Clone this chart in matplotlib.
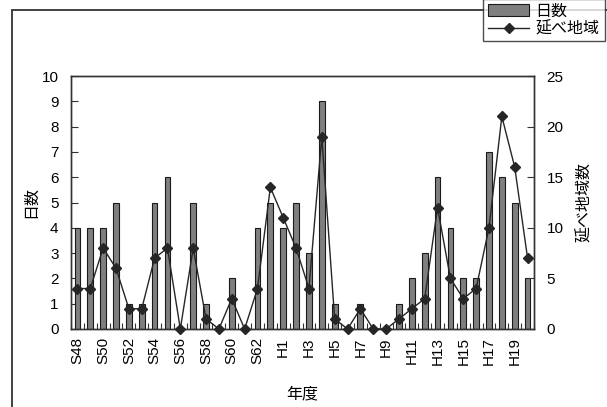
"""
日数・延べ地域数の年度別推移 (S48〜H20)
棒グラフ(左軸) + 折れ線(右軸)
"""

import matplotlib
matplotlib.use("Agg")
import matplotlib.pyplot as plt
from matplotlib.patches import Rectangle
from matplotlib.lines import Line2D

# ═══════════════════════════════════════════════════════════════
# 【データ】
# ═══════════════════════════════════════════════════════════════

years = (["S%d" % y for y in range(48, 64)] +
         ["H%d" % y for y in range(1, 21)])

days = [4, 4, 4, 5, 1, 1, 5, 6, 0, 5, 1, 0, 2, 0, 4, 5,
        4, 5, 3, 9, 1, 0, 1, 0, 0, 1, 2, 3, 6, 4, 2, 2, 7, 6, 5, 2]

regions = [4, 4, 8, 6, 2, 2, 7, 8, 0, 8, 1, 0, 3, 0, 4, 14,
           11, 8, 4, 19, 1, 0, 2, 0, 0, 1, 2, 3, 12, 5, 3, 4, 10, 21, 16, 7]

left_ticks = list(range(0, 11))
right_ticks = [0, 5, 10, 15, 20, 25]

# ═══════════════════════════════════════════════════════════════
# 【繪圖】
# ═══════════════════════════════════════════════════════════════

plt.rcParams['font.family'] = ['Liberation Sans', 'Noto Sans CJK JP', 'DejaVu Sans']
plt.rcParams['font.size'] = 11

BAR_COLOR = '#7f7f7f'
LINE_COLOR = '#262626'
EDGE = '#333333'


def main():
    fig = plt.figure(figsize=(6.07, 4.07), dpi=100)
    ax = fig.add_axes([71 / 607, 78 / 407, 463 / 607, 253 / 407])

    x = [i + 0.5 for i in range(len(years))]

    # 棒: 日数
    ax.bar(x, days, width=0.45, color=BAR_COLOR, edgecolor='#1a1a1a',
           linewidth=0.8, zorder=2)
    ax.set_xlim(0, len(years))
    ax.set_ylim(0, 10)
    ax.set_yticks(left_ticks)
    ax.set_ylabel('日数', fontsize=11.5)
    ax.yaxis.set_label_coords(-0.071, 0.5)

    # x 軸: 区切りに目盛、ラベルは1年おき
    ax.set_xticks(range(0, len(years) + 1))
    ax.set_xticklabels([])
    ax.tick_params(axis='x', which='major', direction='in', length=4,
                   color=EDGE)
    ax.set_xticks([x[i] for i in range(0, len(years), 2)], minor=True)
    ax.set_xticklabels([years[i] for i in range(0, len(years), 2)],
                       minor=True, rotation=90, fontsize=11)
    ax.tick_params(axis='x', which='minor', length=0, pad=6)
    ax.tick_params(axis='y', direction='in', length=5, color=EDGE, pad=9,
                   labelsize=11)
    ax.set_xlabel('年度', fontsize=11.5)
    ax.xaxis.set_label_coords(0.5, -0.225)

    for s in ax.spines.values():
        s.set_color(EDGE)
        s.set_linewidth(1.0)

    # 折れ線: 延べ地域数 (右軸)
    ax2 = ax.twinx()
    ax2.plot(x, regions, '-', color=LINE_COLOR, linewidth=1.0,
             marker='D', markersize=5, markerfacecolor=LINE_COLOR,
             markeredgecolor=LINE_COLOR, clip_on=False, zorder=3)
    ax2.set_ylim(0, 25)
    ax2.set_yticks(right_ticks)
    ax2.tick_params(axis='y', direction='in', length=5, color=EDGE, pad=9,
                    labelsize=11)
    ax2.set_ylabel('延べ地域数', fontsize=11.5)
    ax2.yaxis.set_label_coords(1.091, 0.5)
    for s in ax2.spines.values():
        s.set_color(EDGE)
        s.set_linewidth(1.0)

    # 外枠 (図の端で切れている)
    fig.patches.append(Rectangle((12 / 607, -0.2), 2.0, 0.2 + 397 / 407,
                                 transform=fig.transFigure, fill=False,
                                 edgecolor='#333333', linewidth=1.3,
                                 clip_on=False))

    # 凡例
    handles = [
        Rectangle((0, 0), 1, 1, facecolor=BAR_COLOR, edgecolor='#1a1a1a',
                  linewidth=0.8),
        Line2D([], [], color=LINE_COLOR, linewidth=1.0, marker='D',
               markersize=5),
    ]
    leg = fig.legend(handles, ['日数', '延べ地域'], loc='upper left',
                     bbox_to_anchor=(483 / 607, 1.003), borderaxespad=0,
                     frameon=True, fancybox=False, fontsize=11.5,
                     handlelength=2.6, handleheight=0.7, handletextpad=0.4,
                     labelspacing=0.15, borderpad=0.3)
    leg.get_frame().set_edgecolor('#222222')
    leg.get_frame().set_linewidth(1.0)
    leg.get_frame().set_facecolor('white')
    leg.set_zorder(10)

    fig.savefig('out.png', dpi=100)


if __name__ == "__main__":
    main()
